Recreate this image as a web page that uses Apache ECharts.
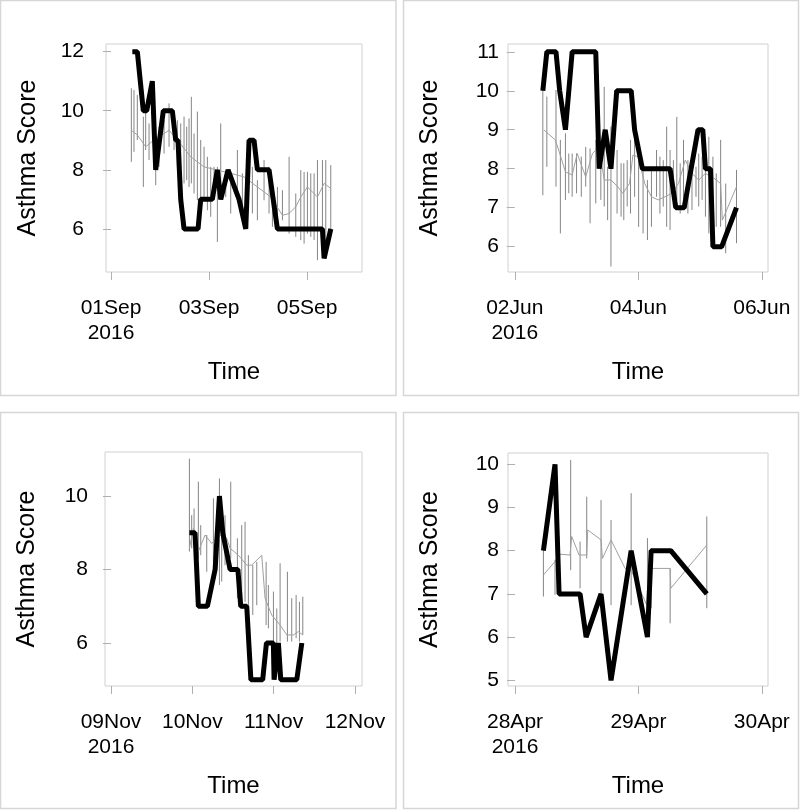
<!DOCTYPE html>
<html><head><meta charset="utf-8">
<script src="https://cdn.jsdelivr.net/npm/echarts@6/dist/echarts.min.js"></script>
<style>html,body{margin:0;padding:0;background:#fff}#c{width:800px;height:810px}</style>
</head><body><div id="c"></div><script>
// ---- Panel 1 (days from 01Sep2016) ----
const p1ObsTime = [0.435,0.537,0.659,0.728,0.843,0.912,1.067,1.251,1.320,1.367,1.422,1.455,1.490,1.776,1.830,2.067,2.169,2.239,2.388,2.612,2.749,2.816,2.918,2.986,3.224,3.394,4.312,4.347,4.484];
const p1ObsScore = [12,12,10,10,11,8,10,10,9,9,7,7,6,6,7,7,8,7,8,7,6,9,9,8,8,6,6,5,6];
const p1MeanTime = [0.415,0.537,0.707,0.878,1.184,1.354,1.626,1.898,2.170,2.442,2.714,2.986,3.259,3.497,3.633,3.769,3.871,4.007,4.211,4.347,4.483];
const p1MeanScore = [9.34,9.18,8.78,9.01,9.34,9.01,8.44,8.10,7.99,7.88,7.76,7.42,7.08,6.46,6.52,6.75,7.08,7.42,7.08,7.54,7.37];
const p1SpikeTime = [0.415,0.469,0.537,0.660,0.707,0.776,0.912,0.980,1.082,1.184,1.286,1.354,1.422,1.490,1.544,1.592,1.639,1.694,1.762,1.830,1.898,1.966,2.034,2.102,2.170,2.238,2.340,2.442,2.578,2.680,2.782,2.884,2.986,3.122,3.224,3.293,3.395,3.497,3.633,3.769,3.871,3.939,4.007,4.075,4.143,4.211,4.313,4.381,4.483];
const p1SpikeHi = [10.76,10.70,10.53,9.80,10.02,9.57,9.01,9.46,9.68,10.25,9.80,9.68,9.57,9.80,9.46,9.74,10.47,9.23,9.97,9.01,8.78,8.44,8.10,8.10,8.10,9.57,7.88,7.76,8.67,7.88,8.33,8.10,7.65,8.33,8.10,7.54,7.42,7.31,8.44,7.20,7.99,7.93,7.93,7.88,7.88,8.33,8.33,8.33,8.16];
const p1SpikeLo = [8.27,8.61,9.01,7.42,8.67,8.33,7.48,8.10,8.55,8.78,8.67,8.10,7.76,7.54,7.65,7.42,7.54,7.20,6.97,6.75,7.08,6.63,6.41,7.08,5.56,7.08,7.08,6.52,6.97,6.75,6.07,6.52,6.29,6.97,6.52,6.07,6.07,6.29,5.84,5.73,5.62,5.50,5.84,5.73,5.62,4.94,6.07,5.62,5.95];
const p1XTicks = [0,2,4];
const p1XLabels = ['01Sep\n2016','03Sep','05Sep'];
const p1YTicks = [6,8,10,12];

// ---- Panel 2 (days from 02Jun2016) ----
const p2ObsTime = [0.454,0.519,0.667,0.727,0.820,0.929,1.311,1.366,1.464,1.557,1.650,1.885,1.940,2.066,2.514,2.607,2.743,2.967,3.044,3.087,3.169,3.208,3.350,3.590];
const p2ObsScore = [10,11,11,10,9,11,11,8,9,8,10,10,9,8,8,7,7,9,9,8,8,6,6,7];
const p2MeanTime = [0.475,0.656,0.710,0.820,0.929,1.011,1.148,1.257,1.366,1.448,1.557,1.667,1.749,1.858,1.913,1.995,2.104,2.213,2.322,2.432,2.541,2.650,2.760,2.869,2.978,3.087,3.197,3.333,3.361,3.590];
const p2MeanScore = [8.99,8.74,8.48,7.92,7.84,8.39,7.79,8.39,8.56,7.71,7.71,7.54,7.37,7.62,8.35,8.31,7.62,7.28,7.20,7.28,7.37,7.62,8.22,7.88,7.71,7.88,7.79,7.62,6.68,7.54];
const p2SpikeTime = [0.454,0.519,0.667,0.738,0.820,0.874,0.929,1.000,1.077,1.148,1.219,1.311,1.393,1.448,1.503,1.557,1.656,1.721,1.765,1.820,1.874,1.940,2.005,2.077,2.148,2.213,2.295,2.350,2.404,2.459,2.514,2.568,2.623,2.678,2.732,2.803,2.869,2.934,2.978,3.033,3.087,3.142,3.208,3.262,3.333,3.415,3.590];
const p2SpikeHi = [10.02,9.85,10.02,8.74,8.91,8.39,8.39,8.39,8.31,8.56,8.52,8.74,8.65,10.10,8.05,9.08,8.48,8.14,8.14,8.22,8.74,8.91,8.31,7.97,7.71,7.97,8.48,8.31,8.22,9.08,8.48,8.22,9.33,8.14,8.74,8.22,8.05,8.05,8.39,8.31,8.14,8.82,8.31,7.88,8.74,7.62,7.97];
const p2SpikeLo = [7.32,8.05,7.54,6.34,7.20,7.37,7.28,7.37,7.28,7.54,6.60,7.11,7.20,7.03,6.68,5.49,6.85,6.77,6.68,7.03,6.85,7.28,6.51,6.34,6.17,6.51,7.28,6.85,7.03,6.51,6.43,7.03,7.20,6.85,7.03,6.85,6.94,7.28,7.03,7.20,6.77,6.34,6.17,6.51,6.51,5.83,6.09];
const p2XTicks = [0,2,4];
const p2XLabels = ['02Jun\n2016','04Jun','06Jun'];
const p2YTicks = [6,7,8,9,10,11];

// ---- Panel 3 (days from 09Nov2016) ----
const p3ObsTime = [0.964,1.033,1.074,1.185,1.280,1.333,1.345,1.374,1.464,1.560,1.595,1.669,1.720,1.865,1.911,1.996,2.005,2.058,2.087,2.284,2.346];
const p3ObsScore = [9,9,7,7,8,10,10,9,8,8,7,7,5,5,6,6,5,6,5,5,6];
const p3MeanTime = [0.964,1.013,1.074,1.156,1.238,1.333,1.423,1.464,1.566,1.669,1.730,1.853,1.894,1.976,2.079,2.161,2.243,2.304,2.358];
const p3MeanScore = [8.58,9.12,8.49,8.94,8.71,8.94,8.85,8.58,8.39,8.12,8.12,8.39,7.22,6.76,6.49,6.22,6.22,6.31,6.22];
const p3SpikeTime = [0.964,0.992,1.021,1.074,1.103,1.177,1.259,1.300,1.333,1.361,1.402,1.472,1.554,1.607,1.648,1.689,1.743,1.792,1.907,1.935,1.997,2.038,2.079,2.169,2.222,2.276,2.317,2.358];
const p3SpikeHi = [11.02,9.48,9.66,10.39,9.21,8.94,9.94,8.94,10.48,9.03,9.48,10.39,8.85,9.21,9.30,8.39,8.12,8.21,8.21,7.58,7.40,6.94,8.17,7.94,7.22,7.31,7.12,7.26];
const p3SpikeLo = [8.49,8.58,8.94,8.30,8.39,7.94,8.21,8.03,7.58,7.67,8.12,8.30,7.22,7.03,7.12,6.94,6.76,7.03,6.49,6.40,5.95,5.95,6.04,6.04,6.04,6.13,6.04,6.22];
const p3XTicks = [0,1,2,3];
const p3XLabels = ['09Nov\n2016','10Nov','11Nov','12Nov'];
const p3YTicks = [6,8,10];

// ---- Panel 4 (days from 28Apr2016) ----
const p4ObsTime = [0.230,0.324,0.357,0.527,0.576,0.697,0.778,0.941,1.073,1.103,1.262,1.554];
const p4ObsScore = [8,10,7,7,6,7,5,8,6,8,8,7];
const p4MeanTime = [0.230,0.324,0.357,0.446,0.459,0.519,0.581,0.589,0.697,0.708,0.778,0.892,0.941,1.068,1.081,1.257,1.262,1.554];
const p4MeanScore = [7.44,7.75,7.92,7.90,8.33,7.90,7.90,8.48,8.25,7.82,8.25,7.59,7.55,6.74,7.59,7.59,7.13,8.13];
const p4SpikeTime = [0.230,0.324,0.357,0.451,0.527,0.581,0.697,0.778,0.941,1.073,1.103,1.257,1.554];
const p4SpikeHi = [8.06,7.79,8.33,10.10,8.21,9.25,9.17,8.71,9.33,8.29,8.06,7.59,8.79];
const p4SpikeLo = [6.94,6.98,7.01,7.55,7.13,7.82,6.74,6.74,6.74,6.51,6.67,6.32,6.67];
const p4XTicks = [0,1,2];
const p4XLabels = ['28Apr\n2016','29Apr','30Apr'];
const p4YTicks = [5,6,7,8,9,10];

const FONT = "'Liberation Sans', Arial, sans-serif";
const panels = [
  {grid:{left:106,top:44,width:256,height:228}, xMin:-0.102, xMax:5.12, yMin:4.54, yMax:12.26,
   xT:p1XTicks, xL:p1XLabels, yT:p1YTicks, yM:22,
   obs:[p1ObsTime,p1ObsScore], mean:[p1MeanTime,p1MeanScore], sp:[p1SpikeTime,p1SpikeLo,p1SpikeHi]},
  {grid:{left:508,top:44,width:260,height:228}, xMin:-0.11, xMax:4.10, yMin:5.35, yMax:11.2,
   xT:p2XTicks, xL:p2XLabels, yT:p2YTicks, yM:9,
   obs:[p2ObsTime,p2ObsScore], mean:[p2MeanTime,p2MeanScore], sp:[p2SpikeTime,p2SpikeLo,p2SpikeHi]},
  {grid:{left:105,top:452,width:257,height:234}, xMin:-0.074, xMax:3.086, yMin:4.83, yMax:11.2,
   xT:p3XTicks, xL:p3XLabels, yT:p3YTicks, yM:17,
   obs:[p3ObsTime,p3ObsScore], mean:[p3MeanTime,p3MeanScore], sp:[p3SpikeTime,p3SpikeLo,p3SpikeHi]},
  {grid:{left:508,top:453,width:260,height:233}, xMin:-0.057, xMax:2.05, yMin:4.87, yMax:10.26,
   xT:p4XTicks, xL:p4XLabels, yT:p4YTicks, yM:9,
   obs:[p4ObsTime,p4ObsScore], mean:[p4MeanTime,p4MeanScore], sp:[p4SpikeTime,p4SpikeLo,p4SpikeHi]}
];

const grids=[], xAxes=[], yAxes=[], series=[];
panels.forEach((p,i)=>{
  grids.push(Object.assign({show:true, borderColor:'#d0d0d0', borderWidth:1, backgroundColor:'transparent'}, p.grid));
  xAxes.push({
    gridIndex:i, type:'value', min:p.xMin, max:p.xMax,
    axisLine:{show:false}, splitLine:{show:false},
    axisTick:{show:true, length:8, lineStyle:{color:'#b0b0b0'}, customValues:p.xT},
    axisLabel:{customValues:p.xT, fontSize:21, lineHeight:25, color:'#000', margin:24, fontFamily:FONT,
      formatter:v=>{const k=p.xT.findIndex(t=>Math.abs(t-v)<1e-6); return k>=0?p.xL[k]:'';}},
    name:'Time', nameLocation:'middle', nameGap:88,
    nameTextStyle:{fontSize:24, color:'#000', fontFamily:FONT}
  });
  yAxes.push({
    gridIndex:i, type:'value', min:p.yMin, max:p.yMax,
    axisLine:{show:false}, splitLine:{show:false},
    axisTick:{show:true, length:8, lineStyle:{color:'#b0b0b0'}, customValues:p.yT},
    axisLabel:{customValues:p.yT, fontSize:21, color:'#000', margin:p.yM, fontFamily:FONT},
    name:'Asthma Score', nameLocation:'middle', nameRotate:90, nameGap:65,
    nameTextStyle:{fontSize:25, color:'#000', fontFamily:FONT}
  });
  series.push({
    type:'custom', xAxisIndex:i, yAxisIndex:i, silent:true, z:1, clip:true,
    data:p.sp[0].map((t,k)=>[t,p.sp[1][k],p.sp[2][k]]),
    encode:{x:0, y:[1,2]},
    renderItem:(params, api)=>{
      const a=api.coord([api.value(0),api.value(1)]);
      const b=api.coord([api.value(0),api.value(2)]);
      return {type:'line', shape:{x1:a[0],y1:a[1],x2:b[0],y2:b[1]}, style:{stroke:'#666666', lineWidth:1, opacity:0.8}};
    }
  });
  series.push({
    type:'line', xAxisIndex:i, yAxisIndex:i, silent:true, z:2, symbol:'none',
    data:p.mean[0].map((t,k)=>[t,p.mean[1][k]]),
    lineStyle:{color:'#a0a0a0', width:1}
  });
  series.push({
    type:'line', xAxisIndex:i, yAxisIndex:i, silent:true, z:3, symbol:'none',
    data:p.obs[0].map((t,k)=>[t,p.obs[1][k]]),
    lineStyle:{color:'#000', width:5}
  });
});

const chart = echarts.init(document.getElementById('c'), null, {renderer:'canvas'});
chart.setOption({
  animation:false, backgroundColor:'#fff',
  grid:grids, xAxis:xAxes, yAxis:yAxes, series:series,
  graphic:[
    {type:'rect', shape:{x:0.5,y:0.5,width:395.5,height:395}, style:{fill:'none', stroke:'#d6d6d6', lineWidth:1.5}, silent:true},
    {type:'rect', shape:{x:403.5,y:0.5,width:395,height:395}, style:{fill:'none', stroke:'#d6d6d6', lineWidth:1.5}, silent:true},
    {type:'rect', shape:{x:0.5,y:412.5,width:395.5,height:396}, style:{fill:'none', stroke:'#d6d6d6', lineWidth:1.5}, silent:true},
    {type:'rect', shape:{x:403.5,y:412.5,width:395,height:396}, style:{fill:'none', stroke:'#d6d6d6', lineWidth:1.5}, silent:true}
  ]
});
</script></body></html>
